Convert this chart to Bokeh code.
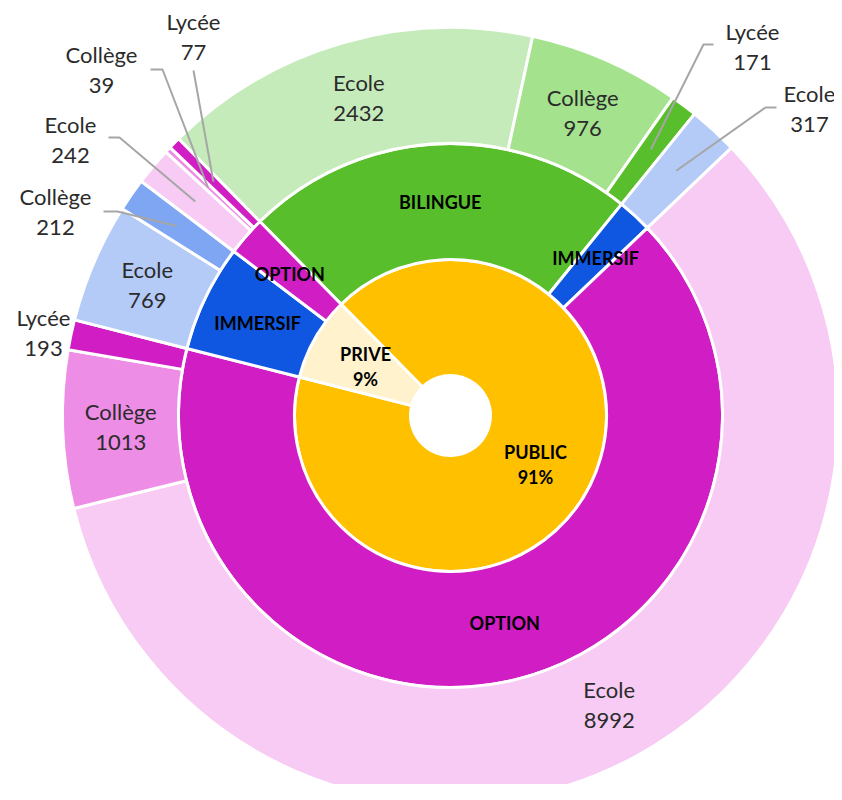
import numpy as np
from itertools import groupby
from bokeh.plotting import figure
from bokeh.models import Range1d, ColumnDataSource
from bokeh.core.properties import value
from bokeh.embed import file_html
from bokeh.resources import INLINE

# ---------------- data ----------------
leaf_sector = ["PUBLIC"] * 7 + ["PRIVE"] * 5
leaf_filiere = ["BILINGUE", "BILINGUE", "BILINGUE", "IMMERSIF", "OPTION", "OPTION", "OPTION",
                "IMMERSIF", "IMMERSIF", "OPTION", "OPTION", "OPTION"]
leaf_niveau = ["Ecole", "Collège", "Lycée", "Ecole", "Ecole", "Collège", "Lycée",
               "Ecole", "Collège", "Ecole", "Collège", "Lycée"]
leaf_value = [2432, 976, 171, 317, 8992, 1013, 193, 769, 212, 242, 39, 77]

# ---------------- styles / layout ----------------
sector_colors = {"PUBLIC": "#FFC000", "PRIVE": "#FFF2CC"}
filiere_colors = {"BILINGUE": "#58BE2C", "IMMERSIF": "#0F57E0", "OPTION": "#D11DC4"}
niveau_colors = {
    ("BILINGUE", "Ecole"): "#C6EBBB", ("BILINGUE", "Collège"): "#A4E28E", ("BILINGUE", "Lycée"): "#58BE2C",
    ("IMMERSIF", "Ecole"): "#B4CBF7", ("IMMERSIF", "Collège"): "#7EA6F2",
    ("OPTION", "Ecole"): "#F7CBF3", ("OPTION", "Collège"): "#EE8DE6", ("OPTION", "Lycée"): "#D11DC4",
}
CX, CY = 450, 415
W, H = 834, 784
R0, R1, R2, R3 = 40, 156, 272, 388
START = 134.5
# outer labels placed outside: leaf index -> (label center dx, dy, leader start, leader corner)
outside = {
    2: ((302, 368.5), [(263, 371), (253, 371)]),
    3: ((359, 307), [(326, 308), (315, 308)]),
    6: ((-407, 82.5), None),
    9: ((-380, 275.5), [(-342, 278), (-331, 278)]),
    8: ((-395, 203.5), [(-347, 204), (-333, 204)]),
    10: ((-349, 346), [(-300, 346), (-288, 346)]),
    11: ((-257, 378.5), [(-257, 345), (-257, 345)]),
}
FONT = value("Lato")
OUT_SIZE = "22px"
IN_SIZE = "18px"
TXT_COL = "#2b2b2b"

p = figure(width=W, height=H, x_range=Range1d(-CX, W - CX), y_range=Range1d(CY - H, CY),
           output_backend="svg", toolbar_location=None, min_border=0)
p.axis.visible = False
p.grid.visible = False
p.outline_line_color = None
p.background_fill_color = "white"
p.border_fill_color = "white"

total = float(sum(leaf_value))
dpv = 360.0 / total


def spans(values):
    cum = np.concatenate([[0], np.cumsum(values)])
    a0 = START - cum[:-1] * dpv
    a1 = START - cum[1:] * dpv
    return a0, a1


def groups(keys, values):
    out_k, out_v = [], []
    for k, grp in groupby(zip(keys, values), key=lambda t: t[0]):
        out_k.append(k)
        out_v.append(sum(v for _, v in grp))
    return out_k, out_v


def ring(values, colors, r_in, r_out):
    a0, a1 = spans(values)
    src = ColumnDataSource(dict(s=np.radians(a1), e=np.radians(a0), c=colors))
    p.annular_wedge(x=0, y=0, inner_radius=r_in, outer_radius=r_out, start_angle="s", end_angle="e",
                    fill_color="c", line_color="white", line_width=3, source=src)
    return (a0 + a1) / 2.0


def two_lines(xs, ys, l1, l2, size, style, color, gap):
    src = ColumnDataSource(dict(x=list(xs) + list(xs), y=[y + gap for y in ys] + [y - gap for y in ys],
                                t=list(l1) + list(l2)))
    p.text(x="x", y="y", text="t", source=src, text_align="center", text_baseline="middle",
           text_font=FONT, text_font_size=size, text_font_style=style, text_color=color)


# inner ring: sectors
sec_k, sec_v = groups(leaf_sector, leaf_value)
mid_sec = ring(sec_v, [sector_colors[k] for k in sec_k], R0, R1)
rm = (R0 + R1) / 2
two_lines(rm * np.cos(np.radians(mid_sec)), rm * np.sin(np.radians(mid_sec)),
          sec_k, ["%d%%" % round(v / total * 100) for v in sec_v], IN_SIZE, "bold", "black", 12.5)

# middle ring: filieres
fil_keys = list(zip(leaf_sector, leaf_filiere))
fil_k, fil_v = groups(fil_keys, leaf_value)
mid_fil = ring(fil_v, [filiere_colors[k[1]] for k in fil_k], R1, R2)
rm = (R1 + R2) / 2
src = ColumnDataSource(dict(x=rm * np.cos(np.radians(mid_fil)), y=rm * np.sin(np.radians(mid_fil)),
                            t=[k[1] for k in fil_k]))
p.text(x="x", y="y", text="t", source=src, text_align="center", text_baseline="middle",
       text_font=FONT, text_font_size=IN_SIZE, text_font_style="bold", text_color="black")

# outer ring: niveaux
mid_leaf = ring(leaf_value, [niveau_colors[(f, n)] for f, n in zip(leaf_filiere, leaf_niveau)], R2, R3)
rm = (R2 + R3) / 2
in_x, in_y, in_l1, in_l2 = [], [], [], []
out_x, out_y, out_l1, out_l2 = [], [], [], []
lead_xs, lead_ys = [], []
for i, (n, v, a) in enumerate(zip(leaf_niveau, leaf_value, mid_leaf)):
    if i in outside:
        (lx, ly), lead = outside[i]
        out_x.append(lx); out_y.append(ly); out_l1.append(n); out_l2.append(str(v))
        if lead:
            ex, ey = 333 * np.cos(np.radians(a)), 333 * np.sin(np.radians(a))
            lead_xs.append([lead[0][0], lead[1][0], ex])
            lead_ys.append([lead[0][1], lead[1][1], ey])
    else:
        in_x.append(rm * np.cos(np.radians(a))); in_y.append(rm * np.sin(np.radians(a)))
        in_l1.append(n); in_l2.append(str(v))

p.multi_line(xs=lead_xs, ys=lead_ys, line_color="#A6A6A6", line_width=2)
two_lines(in_x, in_y, in_l1, in_l2, OUT_SIZE, "normal", TXT_COL, 15.5)
two_lines(out_x, out_y, out_l1, out_l2, OUT_SIZE, "normal", TXT_COL, 15.5)

open("out.html", "w").write(file_html(p, INLINE))
